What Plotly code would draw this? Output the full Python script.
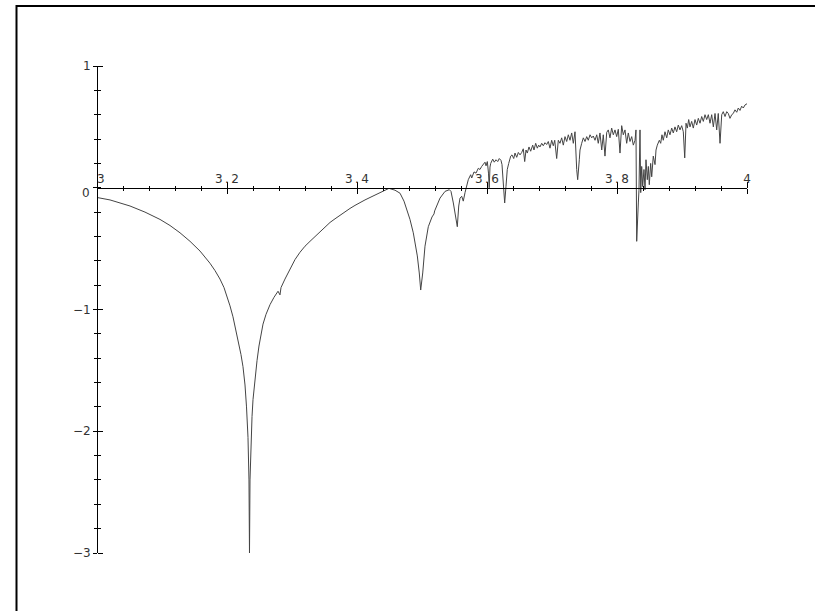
import plotly.graph_objects as go

# Parameter r (x) and Lyapunov exponent (y)
r_values = [
    3.0000, 3.0200, 3.0508, 3.0738, 3.0969, 3.1123, 3.1277, 3.1431, 3.1585, 3.1662,
    3.1738, 3.1815, 3.1892, 3.1954, 3.2000, 3.2046, 3.2092, 3.2138, 3.2169, 3.2215,
    3.2246, 3.2277, 3.2300, 3.2323, 3.2338, 3.2346, 3.2354, 3.2369, 3.2385, 3.2400,
    3.2431, 3.2462, 3.2492, 3.2523, 3.2554, 3.2600, 3.2662, 3.2723, 3.2785, 3.2815,
    3.2831, 3.2892, 3.2969, 3.3046, 3.3123, 3.3200, 3.3277, 3.3354, 3.3431, 3.3508,
    3.3585, 3.3662, 3.3738, 3.3815, 3.3892, 3.3969, 3.4046, 3.4123, 3.4200, 3.4277,
    3.4354, 3.4431, 3.4492, 3.4585, 3.4662,
    3.4723, 3.4765, 3.4815, 3.4866, 3.4928, 3.4958, 3.4980, 3.5011, 3.5046, 3.5097,
    3.5154, 3.5185, 3.5195, 3.5277, 3.5354, 3.5420, 3.5446, 3.5482, 3.5523, 3.5543,
    3.5565, 3.5585, 3.5611, 3.5635, 3.5662, 3.5688, 3.5712, 3.5749, 3.5765, 3.5800,
    3.5831, 3.5866, 3.5892, 3.5918, 3.5943, 3.5969, 3.5985, 3.6005, 3.6023, 3.6034,
    3.6046, 3.6057, 3.6088, 3.6112, 3.6138, 3.6165, 3.6189, 3.6215, 3.6231, 3.6251,
    3.6272, 3.6292, 3.6312, 3.6334, 3.6365, 3.6385, 3.6411, 3.6431, 3.6457, 3.6482,
    3.6508, 3.6534, 3.6558, 3.6580, 3.6600, 3.6620, 3.6646, 3.6672, 3.6703, 3.6723,
    3.6749, 3.6774, 3.6795, 3.6815, 3.6842, 3.6866, 3.6892, 3.6918, 3.6943, 3.6969,
    3.6995, 3.7020, 3.7042, 3.7072, 3.7097, 3.7123, 3.7149, 3.7174, 3.7200, 3.7226,
    3.7251, 3.7277, 3.7303, 3.7328, 3.7354, 3.7380, 3.7395, 3.7420, 3.7431, 3.7457,
    3.7482, 3.7508, 3.7534, 3.7558, 3.7585, 3.7611, 3.7635, 3.7662, 3.7688, 3.7712,
    3.7738, 3.7765, 3.7789, 3.7815, 3.7842, 3.7866, 3.7892, 3.7918, 3.7943, 3.7969,
    3.7995, 3.8020, 3.8046, 3.8072, 3.8097, 3.8123, 3.8149, 3.8174, 3.8200, 3.8226,
    3.8251, 3.8277, 3.8292, 3.8303, 3.8312, 3.8328, 3.8338, 3.8354, 3.8365, 3.8380,
    3.8395, 3.8415, 3.8431, 3.8446, 3.8466, 3.8482, 3.8497, 3.8518, 3.8534, 3.8558,
    3.8585, 3.8600, 3.8620, 3.8651, 3.8672, 3.8692, 3.8712, 3.8738, 3.8765, 3.8789,
    3.8815, 3.8842, 3.8866, 3.8892, 3.8918, 3.8943, 3.8969, 3.8995, 3.9020, 3.9042,
    3.9062, 3.9082, 3.9103, 3.9123, 3.9149, 3.9174, 3.9200, 3.9226, 3.9251, 3.9277,
    3.9303, 3.9328, 3.9354, 3.9380, 3.9405, 3.9431, 3.9457, 3.9482, 3.9508, 3.9534,
    3.9558, 3.9585, 3.9611, 3.9635, 3.9662, 3.9688, 3.9712, 3.9738, 3.9765, 3.9789,
    3.9815, 3.9842, 3.9866, 3.9892, 3.9918, 3.9943, 3.9969, 4.0000,
]

lyapunov_values = [
    -0.08, -0.10, -0.15, -0.20, -0.26, -0.31, -0.37, -0.44, -0.52, -0.57,
    -0.62, -0.68, -0.75, -0.82, -0.89, -0.97, -1.06, -1.17, -1.25, -1.37,
    -1.47, -1.62, -1.80, -2.05, -2.40, -3.00, -2.40, -2.08, -1.88, -1.74,
    -1.57, -1.42, -1.30, -1.20, -1.12, -1.04, -0.96, -0.90, -0.85, -0.88,
    -0.82, -0.75, -0.67, -0.59, -0.53, -0.48, -0.44, -0.40, -0.36, -0.32,
    -0.285, -0.255, -0.225, -0.195, -0.17, -0.145, -0.12, -0.10, -0.08, -0.06,
    -0.04, -0.02, -0.005, -0.02, -0.045,
    -0.11, -0.18, -0.26, -0.37, -0.56, -0.70, -0.84, -0.70, -0.48, -0.32,
    -0.24, -0.215, -0.19, -0.085, -0.03, -0.016, -0.03, -0.125, -0.235, -0.32,
    -0.15, -0.085, -0.07, -0.11, -0.04, 0.01, 0.066, 0.107, 0.08, 0.13,
    0.12, 0.16, 0.15, 0.175, 0.19, 0.21, 0.18, 0.215, 0.12, 0.00,
    0.17, 0.20, 0.235, 0.21, 0.23, 0.215, 0.24, 0.225, 0.19, 0.066,
    -0.125, 0.01, 0.15, 0.20, 0.26, 0.27, 0.24, 0.285, 0.25, 0.29,
    0.27, 0.29, 0.32, 0.215, 0.31, 0.285, 0.335, 0.30, 0.35, 0.31,
    0.365, 0.325, 0.35, 0.335, 0.365, 0.345, 0.37, 0.355, 0.38, 0.325,
    0.39, 0.345, 0.39, 0.24, 0.39, 0.365, 0.41, 0.35, 0.42, 0.38,
    0.435, 0.39, 0.45, 0.365, 0.46, 0.15, 0.066, 0.23, 0.31, 0.365,
    0.41, 0.38, 0.42, 0.39, 0.435, 0.41, 0.425, 0.39, 0.435, 0.365,
    0.45, 0.31, 0.435, 0.26, 0.455, 0.475, 0.41, 0.49, 0.435, 0.475,
    0.42, 0.48, 0.285, 0.51, 0.435, 0.475, 0.365, 0.45, 0.38, 0.42,
    0.35, 0.39, 0.475, -0.44, -0.235, -0.125, -0.02, 0.475, -0.04, 0.175,
    0.01, 0.15, -0.016, 0.23, 0.066, 0.175, 0.025, 0.20, 0.09, 0.26,
    0.19, 0.31, 0.35, 0.39, 0.365, 0.435, 0.39, 0.46, 0.41, 0.475,
    0.435, 0.49, 0.45, 0.50, 0.46, 0.515, 0.475, 0.51, 0.46, 0.245,
    0.53, 0.49, 0.56, 0.50, 0.545, 0.49, 0.56, 0.515, 0.57, 0.53,
    0.585, 0.545, 0.60, 0.56, 0.60, 0.53, 0.60, 0.50, 0.61, 0.475,
    0.61, 0.365, 0.60, 0.625, 0.585, 0.625, 0.61, 0.57, 0.60, 0.61,
    0.64, 0.62, 0.655, 0.635, 0.67, 0.655, 0.68, 0.69,
]

x_tick_values = [3, 3.2, 3.4, 3.6, 3.8, 4]
x_tick_labels = ["\u00a0\u00a03", "3\u2009.\u20092", "3\u2009.\u20094",
                 "3\u2009.\u20096", "3\u2009.\u20098", "4"]
y_tick_values = [-3, -2, -1, 0, 1]
y_tick_labels = ["\u22123", "\u22122", "\u22121", "", "1"]
y_zero_label = "0"

x_range = [3, 4]
y_range = [-3, 1]

W, H = 815, 611
ML, MR, MT, MB = 97, 68, 66, 58
plot_w = W - ML - MR
plot_h = H - MT - MB

axis_col = "black"
text_font = dict(family="DejaVu Sans, Verdana, sans-serif", size=12, color="#333333")

fig = go.Figure()
fig.add_trace(go.Scatter(
    x=r_values, y=lyapunov_values, mode="lines",
    line=dict(color="#444444", width=1), hoverinfo="skip", showlegend=False,
))
# invisible copy so that the overlaid axes (opposite-side ticks) get drawn
fig.add_trace(go.Scatter(
    x=r_values, y=lyapunov_values, mode="lines", xaxis="x2", yaxis="y2",
    line=dict(color="rgba(0,0,0,0)", width=0), hoverinfo="skip", showlegend=False,
))

x_pos = (0 - y_range[0]) / (y_range[1] - y_range[0])

common_x = dict(range=x_range, showgrid=False, zeroline=False, showline=True,
                linecolor=axis_col, linewidth=1, tickcolor=axis_col, tickwidth=1,
                tickmode="array", tickvals=x_tick_values, ticktext=x_tick_labels,
                anchor="free", position=x_pos, tickfont=text_font)
common_y = dict(range=y_range, showgrid=False, zeroline=False, showline=True,
                linecolor=axis_col, linewidth=1, tickcolor=axis_col, tickwidth=1,
                tickmode="array", tickvals=y_tick_values, ticktext=y_tick_labels,
                anchor="free", position=0, tickfont=text_font)

fig.update_layout(
    width=W, height=H,
    margin=dict(l=ML, r=MR, t=MT, b=MB),
    paper_bgcolor="white", plot_bgcolor="white",
    showlegend=False,
    xaxis=dict(**common_x, side="bottom", ticks="outside", ticklen=5,
               showticklabels=False,
               minor=dict(ticks="outside", ticklen=2, tick0=3, dtick=0.04,
                          tickcolor=axis_col, tickwidth=1, showgrid=False)),
    xaxis2=dict(**common_x, side="top", overlaying="x", matches="x",
                ticks="outside", ticklen=6, showticklabels=True,
                ticklabelstandoff=-6,
                minor=dict(ticks="outside", ticklen=2, tick0=3, dtick=0.04,
                           tickcolor=axis_col, tickwidth=1, showgrid=False)),
    yaxis=dict(**common_y, side="left", ticks="outside", ticklen=4,
               showticklabels=True,
               minor=dict(ticks="outside", ticklen=3, tick0=-3, dtick=0.2,
                          tickcolor=axis_col, tickwidth=1, showgrid=False)),
    yaxis2=dict(**common_y, side="right", overlaying="y", matches="y",
                ticks="outside", ticklen=5, showticklabels=False,
                minor=dict(ticks="outside", ticklen=3, tick0=-3, dtick=0.2,
                           tickcolor=axis_col, tickwidth=1, showgrid=False)),
)

# "0" label sits just below the x axis, left of the y axis
fig.add_annotation(x=x_range[0], y=0, xref="x", yref="y", text=y_zero_label,
                   showarrow=False, xanchor="right", yanchor="middle",
                   xshift=-5, yshift=-5, font=text_font)

# outer frame (left and top edges visible, rest runs past the window)
fig.add_shape(type="rect", xref="paper", yref="paper",
              x0=(16.5 - ML) / plot_w, x1=1 + 100 / plot_w,
              y0=-100 / plot_h, y1=1 + (MT - 6) / plot_h,
              line=dict(color="black", width=2), fillcolor="rgba(0,0,0,0)",
              layer="below")

fig.write_html("out.html", config={"displayModeBar": False},
               post_script="document.body.style.margin='0';document.body.style.overflow='hidden';")
